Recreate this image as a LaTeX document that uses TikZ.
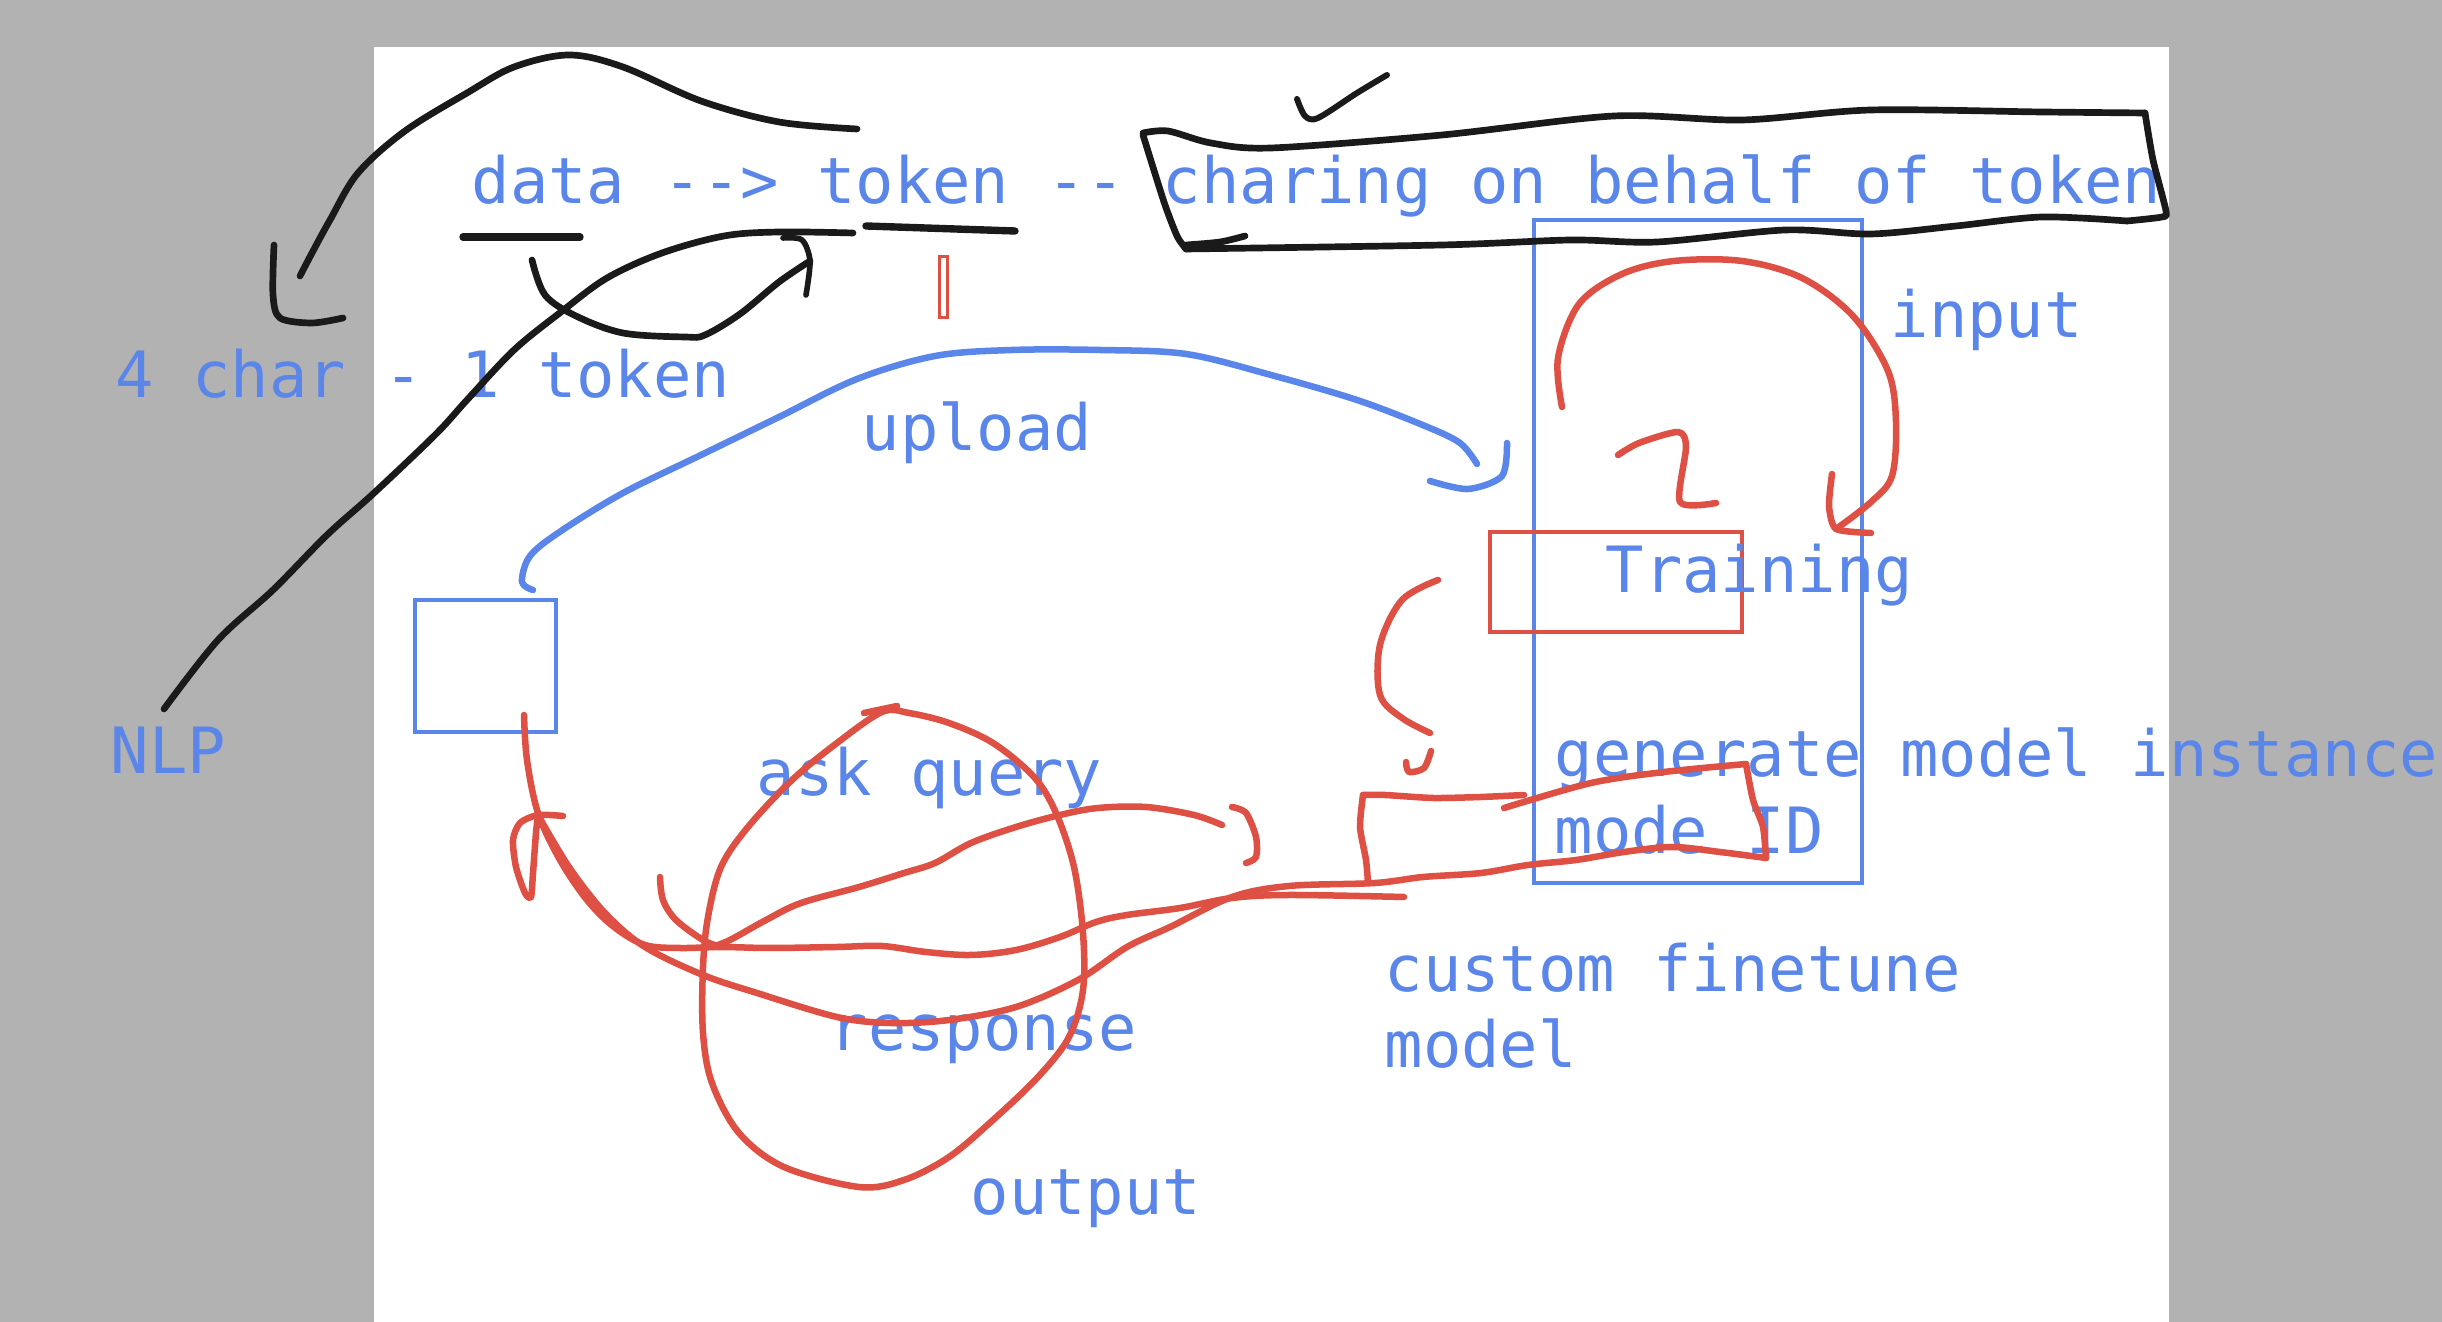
\documentclass[tikz,border=0pt]{standalone}
\usepackage{fontspec}
\newfontfamily\sketchfont{DejaVu Sans Mono}
\definecolor{skblue}{RGB}{90,134,234}
\definecolor{skred}{RGB}{221,80,67}
\definecolor{skblack}{RGB}{26,26,26}
\definecolor{skgray}{RGB}{178,178,178}
\tikzset{
  lbl/.style={text=skblue, font=\sketchfont\fontsize{18.15pt}{22pt}\selectfont, inner sep=0pt, anchor=base west},
  blackpen/.style={draw=skblack, line width=1.9pt, line cap=round, line join=round},
  redpen/.style={draw=skred, line width=1.85pt, line cap=round, line join=round},
  bluepen/.style={draw=skblue, line width=1.85pt, line cap=round, line join=round},
  bluebox/.style={draw=skblue, line width=1pt, inner sep=0pt, anchor=north west},
  redbox/.style={draw=skred, line width=1.15pt, inner sep=0pt, anchor=north west},
}
\begin{document}
\begin{tikzpicture}[x=0.1mm, y=-0.1mm]
\useasboundingbox (0,0) rectangle (2442,1322);
\fill[skgray] (0,0) rectangle (2442,1322);
\fill[white] (374,47) rectangle (2169,1322);

% rectangles
\node[bluebox, minimum width=14.1mm, minimum height=13.2mm] (smallbox) at (413,598) {};
\node[bluebox, minimum width=32.8mm, minimum height=66.3mm] (tallbox) at (1532,218) {};
\node[redbox, minimum width=25.2mm, minimum height=10mm] (trainbox) at (1488,530) {};
\node[redbox, line width=0.9pt, minimum width=0.8mm, minimum height=6.1mm] (tick) at (938,255) {};

% texts
\node[lbl] (title) at (471,204) {data --> token -- charing on behalf of token};
\node[lbl] (fourchar) at (115,398) {4 char - 1 token};
\node[lbl] (upload) at (861,451) {upload};
\node[lbl] (nlp) at (110,774) {NLP};
\node[lbl] (input) at (1890,338) {input};
\node[lbl] (training) at (1605,593) {Training};
\node[lbl] (generate) at (1554,777) {generate model instance};
\node[lbl] (modeid) at (1554,854) {mode ID};
\node[lbl] (custom) at (1384,992) {custom finetune};
\node[lbl] (model) at (1384,1068) {model};
\node[lbl] (ask) at (756,796) {ask query};
\node[lbl] (response) at (829,1051) {response};
\node[lbl] (output) at (970,1215) {output};

% black strokes
\draw[blackpen] plot[smooth, tension=0.55] coordinates {(857,129) (779,122) (701,101) (623,67) (569,55) (514,67) (467,93) (405,131) (358,173) (330,220) (312,253) (300,276)};
\draw[blackpen] plot[smooth, tension=0.5] coordinates {(274,245) (273,295) (280,318) (312,323) (343,318)};
\draw[blackpen, line width=2.1pt] (463,237) -- (580,237);
\draw[blackpen, line width=2.1pt] (866,226) -- (1015,231);
\draw[blackpen] plot[smooth, tension=0.55] coordinates {(532,260) (545,295) (576,316) (623,333) (685,337) (705,335) (740,314) (779,282) (810,261)};
\draw[blackpen, line width=1.6pt] plot[smooth, tension=0.5] coordinates {(783,238) (802,240) (810,261) (806,295)};
\draw[blackpen] plot[smooth, tension=0.55] coordinates {(853,233) (779,232) (724,236) (662,253) (607,278) (561,312) (514,350) (467,400) (436,434) (374,493) (327,535) (273,590) (218,640) (164,709)};
% box around "charing on behalf of token"
\draw[blackpen] plot[smooth, tension=0.5] coordinates {(1143,133) (1168,131) (1211,143) (1271,148) (1442,135) (1614,116) (1742,120) (1871,110) (2042,112) (2145,113)};
\draw[blackpen] plot[smooth, tension=0.4] coordinates {(2145,113) (2153,160) (2166,211) (2162,217) (2127,221)};
\draw[blackpen] plot[smooth, tension=0.5] coordinates {(2127,221) (2042,217) (1956,226) (1871,234) (1785,230) (1657,242) (1571,240) (1442,245) (1186,249)};
\draw[blackpen] plot[smooth, tension=0.4] coordinates {(1186,249) (1177,236) (1164,202) (1143,135)};
\draw[blackpen] plot[smooth, tension=0.5] coordinates {(1186,245) (1220,242) (1245,236)};
% check mark
\draw[blackpen, line width=1.7pt] plot[smooth, tension=0.5] coordinates {(1297,99) (1305,116) (1318,118) (1357,93) (1387,75)};

% blue upload curve
\draw[bluepen] plot[smooth, tension=0.55] coordinates {(533,590) (522,582) (530,556) (561,531) (623,493) (701,455) (779,417) (857,379) (935,356) (1012,350) (1100,350) (1186,354) (1271,375) (1357,400) (1425,426) (1460,443) (1477,464)};
\draw[bluepen] plot[smooth, tension=0.5] coordinates {(1507,443) (1502,476) (1468,489) (1430,481)};

% red strokes upper right
\draw[redpen] plot[smooth, tension=0.55] coordinates {(1562,407) (1558,358) (1579,304) (1622,274) (1674,261) (1742,261) (1802,278) (1853,316) (1888,371) (1896,422) (1892,476) (1871,502) (1836,529)};
\draw[redpen] plot[smooth, tension=0.4] coordinates {(1832,474) (1829,506) (1836,529) (1871,533)};
\draw[redpen] plot[smooth, tension=0.45] coordinates {(1618,455) (1639,443) (1678,432) (1686,447) (1680,502) (1716,503)};
\draw[redpen] plot[smooth, tension=0.55] coordinates {(1438,580) (1402,600) (1380,645) (1380,695) (1402,718) (1430,733)};
\draw[redpen] plot[smooth, tension=0.5] coordinates {(1431,751) (1424,768) (1409,772) (1406,762)};

% red custom finetune box
\draw[redpen] plot[smooth, tension=0.4] coordinates {(1524,795) (1481,797) (1433,798) (1385,795) (1363,795)};
\draw[redpen] plot[smooth, tension=0.4] coordinates {(1363,795) (1360,827) (1366,860) (1368,883)};
\draw[redpen] plot[smooth, tension=0.4] coordinates {(1766,858) (1763,827) (1753,800) (1746,764)};
\draw[redpen] plot[smooth, tension=0.5] coordinates {(1746,764) (1664,772) (1591,783) (1504,808)};

% arrow shaft and middle wavy line
\draw[redpen] plot[smooth, tension=0.55] coordinates {(524,715) (527,760) (538,813) (560,860) (587,900) (614,927) (645,945) (680,948) (721,947) (770,948) (837,947) (882,946) (926,952) (971,955) (1016,950) (1060,937) (1096,922) (1127,915) (1180,908) (1232,898) (1289,895) (1404,897)};
% response curve into box bottom
\draw[redpen] plot[smooth, tension=0.55] coordinates {(538,815) (569,867) (605,913) (645,947) (703,975) (757,993) (837,1017) (891,1023) (949,1020) (1016,1007) (1078,980) (1127,947) (1170,927) (1232,897) (1289,886) (1375,883) (1423,877) (1481,873) (1528,865) (1576,860) (1624,852) (1672,847) (1720,852) (1766,858)};
% ask query wavy line
\draw[redpen] plot[smooth, tension=0.55] coordinates {(712,947) (730,940) (766,920) (801,903) (859,887) (904,873) (935,863) (971,843) (1016,827) (1060,815) (1098,808) (1146,807) (1194,815) (1222,825)};
\draw[redpen] plot[smooth, tension=0.5] coordinates {(1232,807) (1246,813) (1256,837) (1256,857) (1246,863)};
\draw[redpen] plot[smooth, tension=0.55] coordinates {(660,877) (663,900) (676,920) (703,940) (721,947)};
% output loop
\draw[redpen] plot[smooth cycle, tension=0.55] coordinates {(882,712) (837,743) (792,780) (748,827) (721,867) (708,917) (703,967) (703,1033) (712,1083) (739,1133) (784,1167) (859,1187) (904,1180) (949,1157) (993,1120) (1038,1077) (1069,1037) (1083,990) (1083,933) (1074,867) (1056,813) (1034,777) (993,743) (949,723) (909,713)};
\draw[redpen] (864,713) -- (897,706);
% arrowhead at small box
\draw[redpen] plot[smooth, tension=0.45] coordinates {(563,816) (538,815) (520,823) (513,840) (516,867) (525,893) (531,897) (533,873) (536,833) (538,815)};
\end{tikzpicture}
\end{document}
